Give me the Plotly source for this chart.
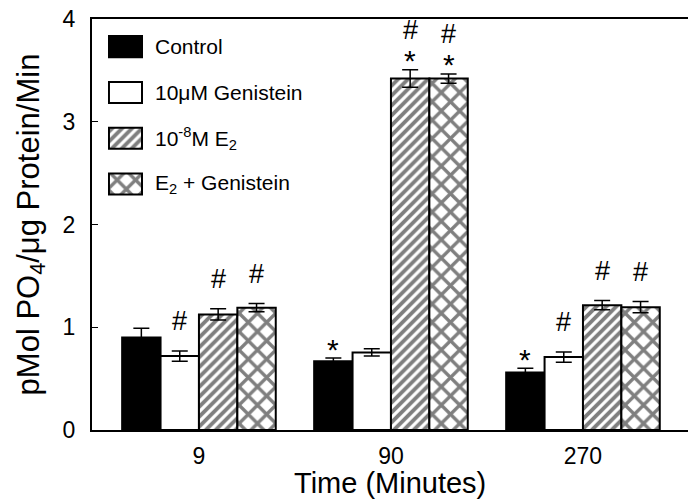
import plotly.graph_objects as go

# ---- data ----
time_labels = ["9", "90", "270"]
series_names = ["Control", "10\u03bcM Genistein", "10<sup>-8</sup>M E<sub>2</sub>", "E<sub>2</sub> + Genistein"]
control = [0.90, 0.67, 0.56]
genistein = [0.72, 0.755, 0.71]
e2 = [1.125, 3.42, 1.215]
e2_genistein = [1.19, 3.42, 1.195]
control_err = [0.09, 0.03, 0.04]
genistein_err = [0.05, 0.035, 0.05]
e2_err = [0.055, 0.085, 0.045]
e2_genistein_err = [0.04, 0.045, 0.055]
# significance marks per series per time point
hash_marks = [[False, False, False], [True, False, True], [True, True, True], [True, True, True]]
star_marks = [[False, True, True], [False, False, False], [False, True, False], [False, True, False]]

values = [control, genistein, e2, e2_genistein]
errors = [control_err, genistein_err, e2_err, e2_genistein_err]

FONT = "Liberation Sans, Arial, sans-serif"
fills = ["black", "white", "white", "white"]
patterns = [None, None, dict(shape="/", fgcolor="black", bgcolor="white", size=7, solidity=0.55),
            dict(shape="x", fgcolor="black", bgcolor="white", size=13, solidity=0.45)]

x_idx = list(range(len(time_labels)))
fig = go.Figure()
for j in range(4):
    marker = dict(color=fills[j], line=dict(color="black", width=2))
    if patterns[j] is not None:
        marker["pattern"] = patterns[j]
    fig.add_trace(go.Bar(
        x=x_idx, y=values[j], name=series_names[j], marker=marker,
        error_y=dict(type="data", array=errors[j], color="black", thickness=1.5, width=8),
        showlegend=False,
    ))

# manual legend with large swatches on overlay axes
for j in range(4):
    marker = dict(color=fills[j], line=dict(color="black", width=2))
    if patterns[j] is not None:
        marker["pattern"] = patterns[j]
    fig.add_trace(go.Bar(
        x=[1], y=[j], orientation="h", marker=marker, width=0.46,
        xaxis="x2", yaxis="y2", showlegend=False, hoverinfo="skip",
    ))

annotations = []
bar_w = 0.8 / 4
for j in range(4):
    for i in x_idx:
        xpos = i + (j - 1.5) * bar_w
        top = values[j][i] + errors[j][i]
        has_star = star_marks[j][i]
        if has_star:
            annotations.append(dict(x=xpos, y=top, xref="x", yref="y", text="*", showarrow=False,
                                    yanchor="middle", yshift=9,
                                    font=dict(family=FONT, size=30, color="black")))
        if hash_marks[j][i]:
            annotations.append(dict(x=xpos, y=top, xref="x", yref="y", text="#", showarrow=False,
                                    yanchor="middle", yshift=40 if has_star else 30,
                                    font=dict(family=FONT, size=27, color="black")))

for j in range(4):
    annotations.append(dict(x=0.102, y=j, xref="paper", yref="y2", text=series_names[j],
                            showarrow=False, xanchor="left", yanchor="middle",
                            font=dict(family=FONT, size=21, color="black")))

# x-axis title as annotation (placed below tick labels)
annotations.append(dict(x=0.5, y=-0.128, xref="paper", yref="paper", text="Time (Minutes)",
                        showarrow=False, xanchor="center", yanchor="middle",
                        font=dict(family=FONT, size=29, color="black")))

fig.update_layout(
    width=688, height=499,
    margin=dict(l=92, r=0, t=19, b=69),
    paper_bgcolor="white", plot_bgcolor="white",
    barmode="group", bargap=0.2, bargroupgap=0,
    font=dict(family=FONT, color="black"),
    annotations=annotations,
    xaxis=dict(range=[-0.557, 2.547], tickvals=x_idx, ticktext=time_labels, automargin=False,
               showline=True, linecolor="black", linewidth=2, mirror=True,
               showgrid=False, zeroline=False, ticks="", ticklabelstandoff=4,
               tickfont=dict(family=FONT, size=23)),
    yaxis=dict(range=[0, 4], tickvals=[0, 1, 2, 3, 4], automargin=False,
               showline=True, linecolor="black", linewidth=2,
               showgrid=False, zeroline=False, ticks="inside", ticklen=6, tickcolor="black",
               ticklabelstandoff=10, tickfont=dict(family=FONT, size=23),
               title=dict(text="pMol PO<sub>4</sub>/\u03bcg Protein/Min", font=dict(family=FONT, size=31), standoff=14)),
    xaxis2=dict(domain=[0.0268, 0.0856], range=[-0.03, 1.03], anchor="y2", visible=False),
    yaxis2=dict(domain=[0.5426, 0.9886], range=[3.5, -0.5], anchor="x2", visible=False),
)

fig.write_html("out.html", config={"displayModeBar": False},
               post_script="document.body.style.margin='0';")
